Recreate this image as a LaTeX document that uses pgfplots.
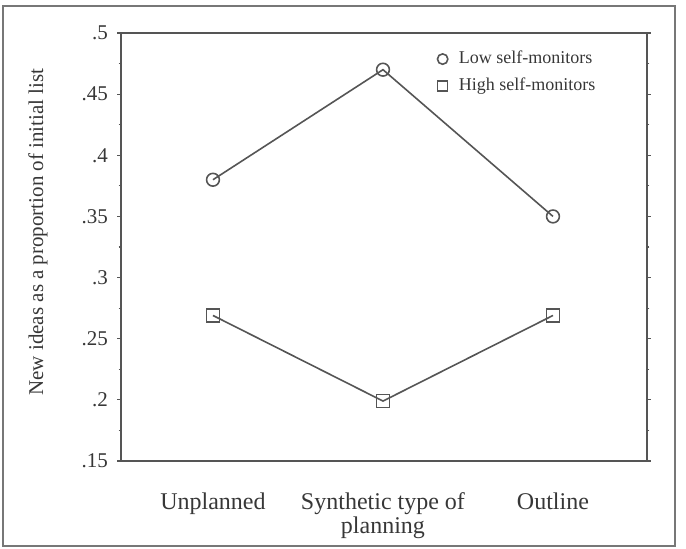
\documentclass[border=0pt]{standalone}
\usepackage{fontspec}
\setmainfont{Liberation Serif}
\usepackage{pgfplots}
\pgfplotsset{compat=1.18}
\definecolor{txt}{RGB}{55,55,55}
\definecolor{ln}{RGB}{85,85,85}
\begin{document}
\begin{tikzpicture}
\path (0,0) rectangle (343pt,274.5pt);
\draw[ln!80, line width=0.7pt] (1.5pt,1.5pt) rectangle (337.5pt,271.5pt);
\begin{axis}[
  at={(60.5pt,44pt)}, anchor=south west,
  scale only axis, width=263pt, height=214pt,
  xmin=-0.541, xmax=2.553, ymin=0.15, ymax=0.5,
  xtick={0,1,2},
  xticklabels={Unplanned,{Synthetic type of\\planning},Outline},
  xticklabel style={align=center, font=\fontsize{12}{12}\selectfont, text=txt, yshift=-10.5pt},
  x tick style={draw=none},
  ytick={0.15,0.2,0.25,0.3,0.35,0.4,0.45,0.5},
  yticklabels={.15,.2,.25,.3,.35,.4,.45,.5},
  minor ytick={0.175,0.225,0.275,0.325,0.375,0.425,0.475},
  ytick pos=both, yticklabel pos=left,
  tick align=outside,
  major tick length=1.8pt, minor tick length=1.2pt,
  y tick style={ln, line width=0.6pt},
  axis line style={ln, line width=0.8pt},
  yticklabel style={font=\fontsize{10.5}{12}\selectfont, text=txt, xshift=-1.2pt},
  ylabel={New ideas as a proportion of initial list},
  ylabel style={at={(axis description cs:-0.158,0.535)}, anchor=center, rotate=0, font=\fontsize{10.5}{13}\selectfont, text=txt},
  legend image code/.code={\path (0cm,0cm) (0.3cm,0cm); \draw[#1, only marks] plot coordinates {(0.1cm,0cm)};},
  legend style={at={(0.587,0.977)}, anchor=north west, draw=none, fill=none,
    font=\fontsize{9}{10}\selectfont, text=txt, row sep=1.5pt},
  legend cell align=left,
]
\addplot[ln, line width=0.8pt, mark=o, mark size=3.2pt, mark options={fill=white, solid},
  legend image post style={mark size=2.6pt}]
  coordinates {(0,0.38) (1,0.47) (2,0.35)};
\addlegendentry{Low self-monitors}
\addplot[ln, line width=0.8pt, mark=square, mark size=3.2pt, mark options={fill=white, solid},
  legend image post style={mark size=2.5pt}]
  coordinates {(0,0.269) (1,0.199) (2,0.269)};
\addlegendentry{High self-monitors}
\end{axis}
\end{tikzpicture}
\end{document}
